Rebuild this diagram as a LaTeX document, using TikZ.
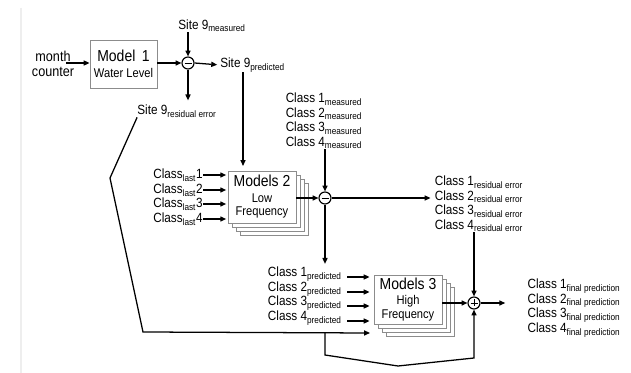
\documentclass[tikz,border=0pt]{standalone}
\usepackage{fontspec}
\setmainfont{Liberation Sans}[FakeStretch=0.88]
\usetikzlibrary{arrows.meta, positioning, calc}
\definecolor{boxgray}{HTML}{8C8C8C}
\definecolor{edgegray}{HTML}{EEEEEE}
\newcommand{\lblfont}{\fontsize{9.5}{10.4}\selectfont}
\newcommand{\bigfont}{\fontsize{11.3}{12}\selectfont}
\newcommand{\smallfont}{\fontsize{9}{9.8}\selectfont}
\tikzset{
  lbl/.style={font=\lblfont, inner sep=0pt, align=center},
  conn/.style={line width=0.9pt},
  arr/.style={conn, -{Triangle[length=4.2pt,width=3.6pt]}},
  mbox/.style={draw=boxgray, line width=0.6pt, fill=white, minimum width=1.7cm,
    minimum height=1.25cm, inner sep=0pt, align=center, font=\smallfont},
  sumnode/.style={circle, draw, line width=0.8pt, minimum size=0.3cm, inner sep=0pt}
}
\begin{document}
\begin{tikzpicture}[x=0.025cm, y=-0.025cm]
        \fill[white] (0,0) rectangle (631,373);
        \useasboundingbox (0,0) rectangle (631,373);
        \draw[edgegray, line width=1.2pt] (21,8) -- (21,373);
        % Stage 1: month counter -> Model 1
        \node[lbl, font=\fontsize{10.2}{10.6}\selectfont] (month) at (53,64) {month\\counter};
        \coordinate (mc) at (66,63);
        \node[mbox, minimum width=1.675cm, minimum height=1.2cm] (m1) at (123.5,64)
          {{\bigfont Model\,\ 1}\\[1.5pt]Water Level};
        \draw[arr] (mc) -- (mc -| m1.west);
        % Site 9 difference
        \node[sumnode] (sub1) at (188,63) {};
        \draw[line width=0.7pt] ($(sub1.center)+(-3.5,0)$) -- ($(sub1.center)+(3.5,0)$);
        \node[lbl] (s9m) at (212,26) {Site 9\textsubscript{measured}};
        \node[lbl, anchor=west] (s9p) at (220,65) {Site 9\textsubscript{predicted}};
        \node[lbl] (s9r) at (177,111) {Site 9\textsubscript{residual error}};
        \draw[arr] (m1.east |- sub1) -- (sub1.west);
        \draw[arr] (sub1 |- s9m.south) -- (sub1.north);
        \draw[arr, shorten >=2pt] (sub1.east) -- (s9p.west);
        \draw[arr, shorten >=3pt] (sub1.south) -- (sub1 |- s9r.north);
        % Stage 2: Models 2 (low frequency)
        \foreach \k in {3,2,1}
          \node[mbox, minimum height=1.3cm] at (262+\k*4.3, 197+\k*4.3) {};
        \node[mbox, minimum height=1.3cm] (m2) at (262,197)
          {{\bigfont Models 2}\\[1pt]Low\\Frequency};
        \foreach \i/\y in {1/175,2/190,3/204,4/219} {
          \node[lbl, anchor=east] (cl\i) at (203,\y) {Class\textsubscript{last}\i};
          \draw[arr, shorten >=1pt] (cl\i.east) -- (cl\i.east -| m2.west);
        }
        \coordinate (p2) at (243,166);
        \draw[arr] (s9p.south -| p2) -- (p2);
        % Class difference
        \node[sumnode] (sub2) at (325,198) {};
        \draw[line width=0.7pt] ($(sub2.center)+(-3.5,0)$) -- ($(sub2.center)+(3.5,0)$);
        \node[lbl] (cm) at (324,121)
          {Class 1\textsubscript{measured}\\Class 2\textsubscript{measured}\\
           Class 3\textsubscript{measured}\\Class 4\textsubscript{measured}};
        \node[lbl] (cr) at (479,204)
          {Class 1\textsubscript{residual error}\\Class 2\textsubscript{residual error}\\
           Class 3\textsubscript{residual error}\\Class 4\textsubscript{residual error}};
        \draw[arr] (m2.east |- sub2) -- (sub2.west);
        \draw[arr] (sub2 |- cm.south) -- (sub2.north);
        \draw[arr] (sub2.east) -- ($(cr.west |- sub2)+(-4,0)$);
        % Stage 3: Models 3 (high frequency)
        \foreach \k in {3,2,1}
          \node[mbox, minimum height=1.225cm] at (408+\k*4.3, 299.5+\k*4.3) {};
        \node[mbox, minimum height=1.225cm] (m3) at (408,299.5)
          {{\bigfont Models 3}\\[1pt]High\\Frequency};
        \foreach \i/\y in {1/274,2/289,3/303,4/318} {
          \node[lbl, anchor=east] (cp\i) at (342,\y) {Class \i\textsubscript{predicted}};
          \draw[arr] ($(cp\i.east)+(5,3)$) -- ($(cp\i.east -| m3.west)+(-4,3)$);
        }
        \draw[arr, shorten >=2pt] (sub2.south) -- (sub2 |- cp1.north);
        % Residual error of site 9 into Models 3
        \coordinate (m3in) at (370,333);
        \coordinate (br) at (325,333);
        \draw[arr] (s9r.south west) -- (110,178) -- (143,332) -- (m3in);
        % Sum and final prediction
        \node[sumnode] (plus) at (474,303) {};
        \draw[line width=0.7pt] ($(plus.center)+(-3.5,0)$) -- ($(plus.center)+(3.5,0)$)
          ($(plus.center)+(0,-3.5)$) -- ($(plus.center)+(0,3.5)$);
        \node[lbl] (cf) at (574,308)
          {Class 1\textsubscript{final prediction}\\Class 2\textsubscript{final prediction}\\
           Class 3\textsubscript{final prediction}\\Class 4\textsubscript{final prediction}};
        \draw[arr] (m3.east |- plus) -- (plus.west);
        \draw[arr] (plus |- cr.south) -- (plus.north);
        \draw[arr] (br) -- ++(0,22) -- (398,366) -- (474,358) -- (plus.south);
        \draw[arr] (plus.east) -- ($(cf.west |- plus)+(-22,0)$);
      \end{tikzpicture}
\end{document}
